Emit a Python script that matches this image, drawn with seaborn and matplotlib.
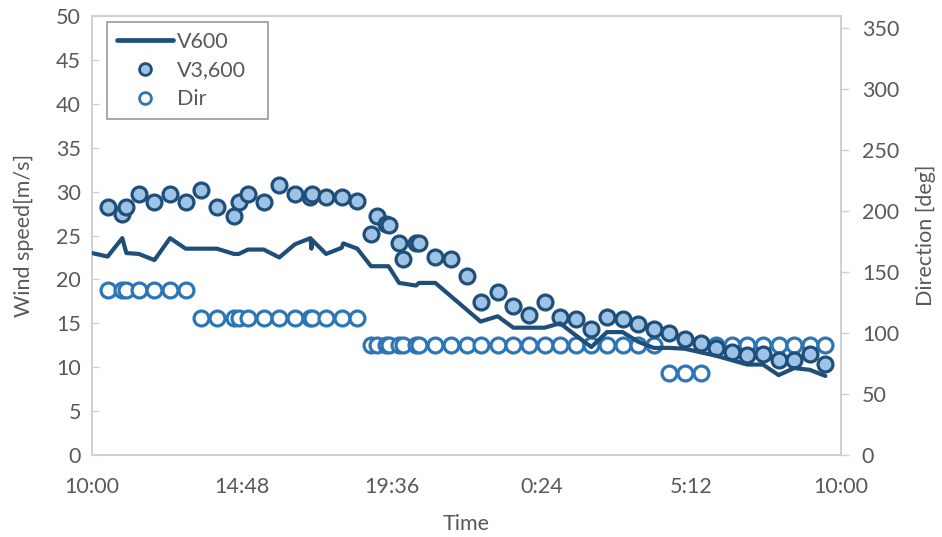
import matplotlib
matplotlib.use("Agg")
import matplotlib.pyplot as plt
import seaborn as sns
import pandas as pd
from matplotlib.lines import Line2D

# ---- data (hours after 10:00) ----
t_line = [0, 0.5, 0.97, 1.1, 1.5, 2.0, 2.5, 3.0, 3.5, 4.0, 4.55, 4.7, 5.0, 5.5, 6.0, 6.5,
          7.0, 7.03, 7.05, 7.5, 8.0, 8.05, 8.5, 8.94, 9.5, 9.84, 10.38, 10.48, 11.0, 12.45,
          13.0, 13.5, 14.0, 14.5, 15.0, 15.4, 16.0, 16.5, 17.0, 17.5, 18.0, 18.5, 19.0,
          20.0, 21.0, 21.5, 22.0, 22.5, 23.0, 23.5]
v600 = [23.0, 22.6, 24.7, 23.0, 22.9, 22.2, 24.7, 23.5, 23.5, 23.5, 22.9, 22.9, 23.4, 23.4,
        22.5, 24.0, 24.7, 23.5, 24.5, 22.9, 23.6, 24.1, 23.5, 21.5, 21.5, 19.6, 19.3, 19.6,
        19.6, 15.2, 15.8, 14.5, 14.5, 14.5, 15.0, 13.9, 12.3, 14.0, 14.0, 12.9, 12.2, 12.2,
        12.1, 11.3, 10.3, 10.3, 9.1, 9.9, 9.7, 9.0]

t_pts = [0.5, 0.97, 1.1, 1.5, 2.0, 2.5, 3.0,
         3.5, 4.0, 4.55, 4.7, 5.0, 5.5, 6.0, 6.5, 7.0, 7.05, 7.5, 8.0, 8.5,
         8.94, 9.13, 9.42, 9.52, 9.84, 9.97, 10.38, 10.48, 11.0, 11.5, 12.0, 12.45,
         13.0, 13.5, 14.0, 14.5, 15.0, 15.5, 16.0, 16.5, 17.0, 17.5, 18.0,
         18.5, 19.0, 19.5,
         20.0, 20.5, 21.0, 21.5, 22.0, 22.5, 23.0, 23.5]
v3600 = [28.2, 27.4, 28.2, 29.7, 28.8, 29.7, 28.8,
         30.2, 28.2, 27.2, 28.8, 29.7, 28.8, 30.8, 29.7, 29.4, 29.7, 29.4, 29.4, 28.9,
         25.2, 27.2, 26.3, 26.2, 24.1, 22.3, 24.1, 24.1, 22.6, 22.3, 20.4, 17.4,
         18.6, 17.0, 15.9, 17.4, 15.7, 15.5, 14.3, 15.7, 15.5, 14.9, 14.3,
         13.9, 13.2, 12.8,
         12.2, 11.7, 11.4, 11.5, 10.8, 10.8, 11.5, 10.4]
direction = [135] * 7 + [112.5] * 13 + [90] * 23 + [67.5] * 3 + [90] * 8

x_ticks = [0, 4.8, 9.6, 14.4, 19.2, 24]
x_ticklabels = ["10:00", "14:48", "19:36", "0:24", "5:12", "10:00"]

line_df = pd.DataFrame({"t": t_line, "V600": v600})
pts_df = pd.DataFrame({"t": t_pts, "V3600": v3600, "Dir": direction})

# ---- style ----
sns.set_style("white")
plt.rcParams["font.family"] = ["Lato", "DejaVu Sans"]
txt = "#595959"
grid_c = "#D0D0D0"
dark = "#1F4E79"
light = "#9DC3E6"
mid = "#2E75B6"
fs = 15.5

fig = plt.figure(figsize=(9.42, 5.37), dpi=100)
ax = fig.add_axes([0.0977, 0.1527, 0.7951, 0.8175])
ax2 = ax.twinx()

sns.scatterplot(data=pts_df, x="t", y="Dir", ax=ax2, marker="o", s=115,
                facecolor="white", edgecolor=mid, linewidth=2.3, zorder=2, legend=False)
sns.scatterplot(data=pts_df, x="t", y="V3600", ax=ax, marker="o", s=115,
                facecolor=light, edgecolor=dark, linewidth=2.3, zorder=2, legend=False)
sns.lineplot(data=line_df, x="t", y="V600", ax=ax, color=dark, linewidth=3.0,
             zorder=3, sort=False, legend=False)

ax.set_zorder(ax2.get_zorder() + 1)
ax.patch.set_visible(False)

ax.set_xlim(0, 24)
ax.set_ylim(0, 50)
ax2.set_ylim(0, 360)
ax.set_yticks(range(0, 51, 5))
ax2.set_yticks(range(0, 351, 50))
ax.set_xticks(x_ticks)
ax.set_xticklabels(x_ticklabels)

for a in (ax, ax2):
    for s in a.spines.values():
        s.set_color(grid_c)
        s.set_linewidth(1.3)

ax.tick_params(axis="y", direction="in", length=5, width=1, color=grid_c,
               labelsize=fs, labelcolor=txt, pad=8, left=True)
ax.tick_params(axis="x", length=0, labelsize=fs, labelcolor=txt, pad=16)
ax2.tick_params(axis="y", direction="out", length=6, width=1, color=grid_c,
                labelsize=fs, labelcolor=txt, pad=9, right=True)

ax.set_xlabel("Time", fontsize=fs, color=txt, labelpad=12)
ax.set_ylabel("Wind speed[m/s]", fontsize=fs, color=txt, labelpad=16)
ax2.set_ylabel("Direction [deg]", fontsize=fs, color=txt, labelpad=12)

handles = [
    Line2D([0], [0], color=dark, linewidth=3.4),
    Line2D([0], [0], marker="o", linestyle="none", markersize=8.5,
           markerfacecolor=light, markeredgecolor=dark, markeredgewidth=2),
    Line2D([0], [0], marker="o", linestyle="none", markersize=8.5,
           markerfacecolor="white", markeredgecolor=mid, markeredgewidth=2),
]
leg = ax.legend(handles, ["V600", "V3,600", "Dir"], loc="upper left",
                bbox_to_anchor=(0.02, 0.781, 0.215, 0.205), mode="expand",
                borderaxespad=0, fontsize=fs,
                frameon=True, fancybox=False, edgecolor="#808080",
                handlelength=2.6, handletextpad=0.2, labelspacing=0.4,
                borderpad=0.45, labelcolor=txt)
leg.get_frame().set_linewidth(1.2)

fig.savefig("out.png", dpi=100)
